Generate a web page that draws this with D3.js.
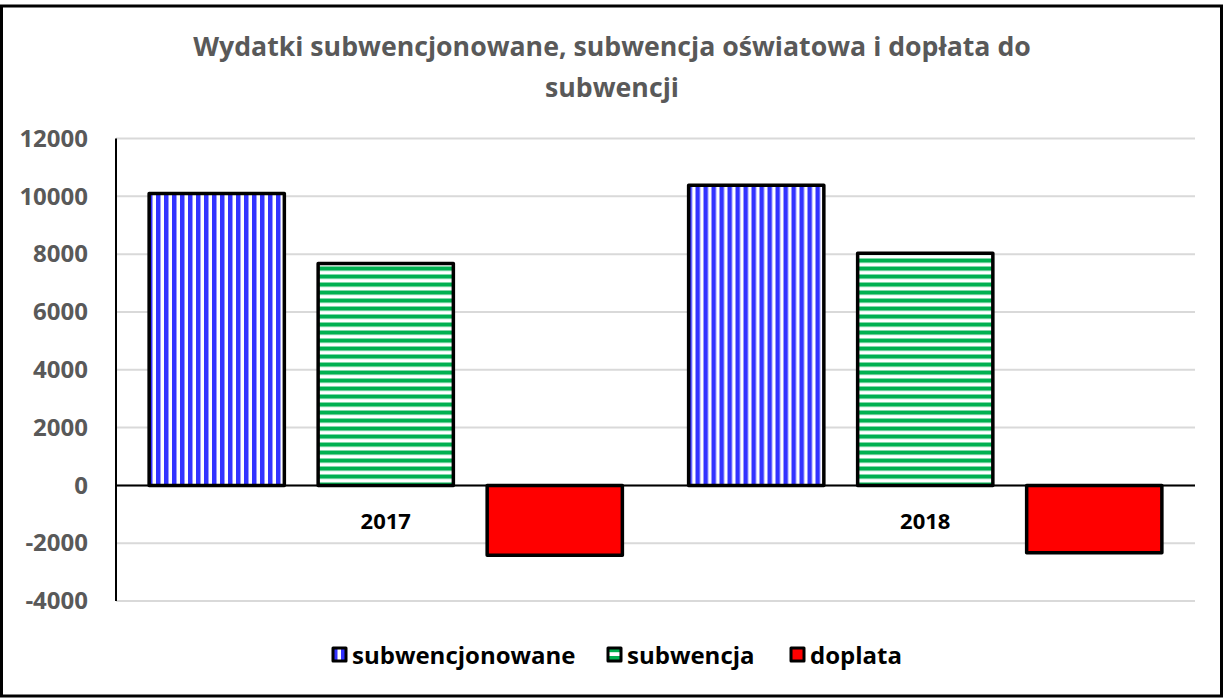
<!DOCTYPE html>
<html>
<head>
<meta charset="utf-8">
<script src="https://cdn.jsdelivr.net/npm/d3@7"></script>
<style>
  body { margin: 0; background: #fff; }
  text { font-family: "Open Sans", Lato, sans-serif; font-weight: bold; }
</style>
</head>
<body>
<div id="chart"></div>
<script>
// data
const years = ["2017", "2018"];
const series = ["subwencjonowane", "subwencja", "doplata"];
const subwencjonowane = [10100, 10380];
const subwencja = [7680, 8030];
const doplata = [-2420, -2330];
const yTicks = [-4000, -2000, 0, 2000, 4000, 6000, 8000, 10000, 12000];
const titleLines = ["Wydatki subwencjonowane, subwencja oświatowa i dopłata do", "subwencji"];

const values = {subwencjonowane, subwencja, doplata};

const W = 1223, H = 698;
const margin = {top: 138.5, right: 28, bottom: 97, left: 116};
const width = W - margin.left - margin.right,
      height = H - margin.top - margin.bottom;

const svg = d3.select("#chart").append("svg")
  .attr("width", W).attr("height", H);

// patterns
const defs = svg.append("defs");
const pv = defs.append("pattern").attr("id", "pv")
  .attr("patternUnits", "userSpaceOnUse").attr("width", 8).attr("height", 8);
pv.append("rect").attr("width", 8).attr("height", 8).attr("fill", "#fff");
pv.append("rect").attr("x", 0).attr("width", 4.5).attr("height", 8).attr("fill", "#3333ff");
const ph = defs.append("pattern").attr("id", "ph")
  .attr("patternUnits", "userSpaceOnUse").attr("width", 8).attr("height", 8);
ph.append("rect").attr("width", 8).attr("height", 8).attr("fill", "#fff");
ph.append("rect").attr("y", 0).attr("width", 8).attr("height", 4.2).attr("fill", "#00b050");

const fills = {subwencjonowane: "url(#pv)", subwencja: "url(#ph)", doplata: "#ff0000"};

// outer border
svg.append("rect").attr("x", 1.5).attr("y", 6).attr("width", W - 3).attr("height", H - 8)
  .attr("fill", "none").attr("stroke", "#000").attr("stroke-width", 3);

// title
svg.append("g").selectAll("text").data(titleLines).enter().append("text")
  .attr("x", 612).attr("y", (d, i) => 56 + i * 41)
  .attr("text-anchor", "middle").attr("fill", "#595959")
  .style("font-size", "26.7px")
  .text(d => d);

const g = svg.append("g").attr("transform", `translate(${margin.left},${margin.top})`);

const x0 = d3.scaleBand().domain(years).range([0, width]);
const x1 = d3.scaleBand().domain(series).range([0, x0.bandwidth()])
  .paddingInner(0.2).paddingOuter(0.196);
const y = d3.scaleLinear().domain([-4000, 12000]).range([height, 0]);

// gridlines
g.append("g").selectAll("line").data(yTicks).enter().append("line")
  .attr("x1", 0).attr("x2", width)
  .attr("y1", d => y(d)).attr("y2", d => y(d))
  .attr("stroke", "#d9d9d9").attr("stroke-width", 2);

// y axis labels
const yAxis = g.append("g").call(d3.axisLeft(y).tickValues(yTicks)
  .tickFormat(d => String(d)).tickSize(0).tickPadding(28));
yAxis.select(".domain").remove();
yAxis.selectAll("text").attr("fill", "#595959").style("font-size", "24px")
  .style("font-family", "'Open Sans', sans-serif").style("font-weight", "bold");

// y axis line
g.append("line").attr("x1", 0).attr("x2", 0).attr("y1", 0).attr("y2", height)
  .attr("stroke", "#000").attr("stroke-width", 2);

// bars
years.forEach((yr, i) => {
  g.append("g").attr("transform", `translate(${x0(yr)},0)`)
    .selectAll("rect").data(series).enter().append("rect")
      .attr("x", s => x1(s))
      .attr("width", x1.bandwidth())
      .attr("y", s => y(Math.max(0, values[s][i])))
      .attr("height", s => Math.abs(y(values[s][i]) - y(0)))
      .attr("fill", s => fills[s])
      .attr("stroke", "#000").attr("stroke-width", 3.5)
      .attr("stroke-linejoin", "round");
});

// zero line
g.append("line").attr("x1", 0).attr("x2", width).attr("y1", y(0)).attr("y2", y(0))
  .attr("stroke", "#000").attr("stroke-width", 2);

// category labels
g.append("g").selectAll("text").data(years).enter().append("text")
  .attr("x", d => x0(d) + x0.bandwidth() / 2)
  .attr("y", y(0) + 44)
  .attr("text-anchor", "middle").attr("fill", "#000")
  .style("font-size", "22px")
  .text(d => d);

// legend
const legX = [333, 608, 791];
const leg = svg.append("g").selectAll("g").data(series).enter().append("g")
  .attr("transform", (d, i) => `translate(${legX[i]},648)`);
leg.append("rect").attr("width", 13).attr("height", 13)
  .attr("fill", d => fills[d]).attr("stroke", "#000").attr("stroke-width", 3)
  .attr("stroke-linejoin", "round");
leg.append("text").attr("x", 19).attr("y", 16)
  .attr("fill", "#000").style("font-size", "24px")
  .text(d => d);
</script>
</body>
</html>
